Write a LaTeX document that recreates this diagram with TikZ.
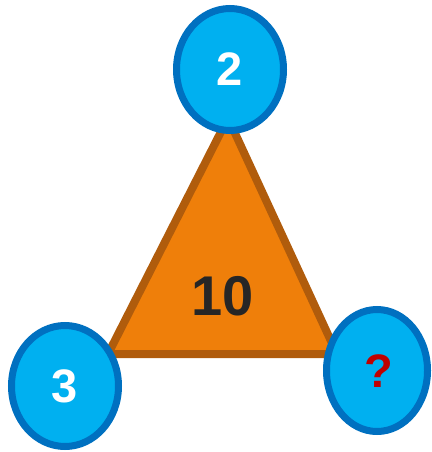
\documentclass[tikz,border=0pt]{standalone}
\usepackage{fontspec}
\setmainfont{Liberation Sans}
\usetikzlibrary{shapes.geometric}
\definecolor{cfill}{HTML}{00B0F0}
\definecolor{cedge}{HTML}{0070C0}
\definecolor{tfill}{HTML}{EF7F0A}
\definecolor{tedge}{HTML}{B05C0C}
\definecolor{qred}{HTML}{C00000}
\definecolor{dgray}{HTML}{262626}
\tikzset{
  ball/.style={ellipse, draw=cedge, fill=cfill, line width=7pt, inner sep=0pt},
  numtxt/.style={font=\bfseries\fontsize{47}{47}\selectfont}
}
\begin{document}
\begin{tikzpicture}[x=1pt,y=-1pt]
\useasboundingbox (0,0) rectangle (431,452);
\coordinate (A) at (228,118);
\coordinate (B) at (108,354);
\coordinate (C) at (337,354);
\draw[fill=tfill, draw=tedge, line width=8pt, line join=miter] (A) -- (B) -- (C) -- cycle;
\node[font=\bfseries\fontsize{56}{56}\selectfont, text=dgray] (ten) at (223,296) {10};
\node[ball, minimum width=107pt, minimum height=122pt] (top) at (230,69.5) {};
\node[numtxt, text=white] at (top.center) {2};
\node[ball, minimum width=107pt, minimum height=121pt] (left) at (65,386) {};
\node[numtxt, text=white] at (left.center) {3};
\node[ball, minimum width=101pt, minimum height=122pt] (right) at (377,370.5) {};
\node[numtxt, text=qred] at (379,371) {?};
\end{tikzpicture}
\end{document}
